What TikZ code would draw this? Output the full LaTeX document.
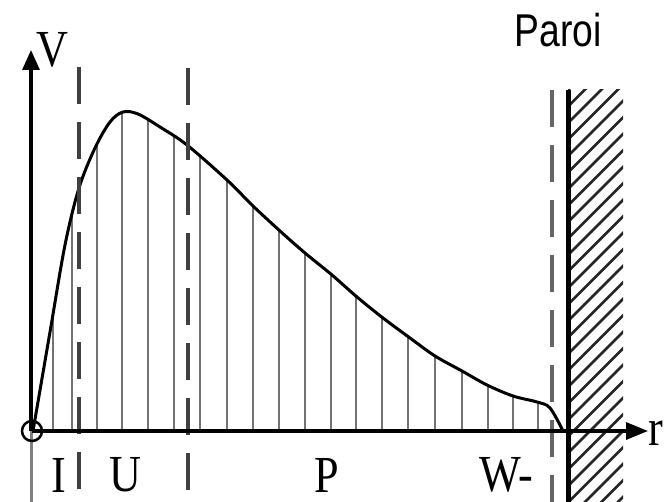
\documentclass[tikz,border=0pt]{standalone}
\usepackage{fontspec}
\setmainfont{Liberation Serif}
\newfontfamily\parsans{Liberation Sans}
\usetikzlibrary{arrows.meta}
\tikzset{
  axisline/.style={line width=3.2pt,black},
  vline/.style={line width=2.3pt,black!55},
  curveline/.style={line width=3pt,black},
  dashline/.style={line width=3.2pt,black!75,dash pattern=on 37pt off 18pt},
  hatchline/.style={line width=2.5pt,black!85},
  zonelabel/.style={font=\fontsize{52}{52}\selectfont,inner sep=0pt,xscale=0.85},
}
\begin{document}
\begin{tikzpicture}[x=1pt,y=-1pt]
\useasboundingbox (0,0) rectangle (666,502);
\fill[white] (0,0) rectangle (666,502);
% key points
\coordinate (O) at (32,431);
\coordinate (Rtip) at (648,431);
\coordinate (Vtop) at (31,50);
\coordinate (Vbot) at (31,502);
\coordinate (Vbotgrey) at (31,431);
\def\curvepts{(33,431) (50,332) (65,245) (79,188) (95,148) (110,122) (123,112) (138,114) (160,127) (187,145) (227,180) (253,206) (280,231) (305,253) (332,275) (357,297) (383,318) (410,338) (435,356) (462,371) (487,385) (513,396) (537,402) (550,408) (563,431)}
% verticals under the curve
\begin{scope}
\clip plot[smooth,tension=0.55] coordinates {\curvepts} -- cycle;
\foreach \xx in {53,72,97,122,148,174,200,227,253,279,305,331,356,382,408,435,462,488,513,538}
  \draw[vline] (\xx,433) -- (\xx,95);
\end{scope}
% curve
\draw[curveline] plot[smooth,tension=0.55] coordinates {\curvepts};
% dashed boundaries
\coordinate (D1t) at (79,67);  \coordinate (D1b) at (79,502);
\coordinate (D2t) at (188,68); \coordinate (D2b) at (188,502);
\coordinate (D3t) at (552,90); \coordinate (D3b) at (552,502);
\draw[dashline] (D1t) -- (D1b);
\draw[dashline] (D2t) -- (D2b);
\draw[dashline,black!60] (D3t) -- (D3b);
% hatch wall
\begin{scope}
\clip (568,90) rectangle (623,502);
\foreach \i in {0,...,32}
  \draw[hatchline] (566,{92+\i*16.5}) -- ++(62,-62);
\end{scope}
\coordinate (Wt) at (568,90); \coordinate (Wb) at (568,502);
\draw[line width=5pt,black] (Wt) -- (Wb);
% axes
\draw[line width=3pt,black!50] (Vbotgrey) -- (Vbot);
\draw[axisline,-{Triangle[length=20pt,width=17pt]}] (Vbotgrey) -- (Vtop);
\draw[axisline,-{Triangle[length=22pt,width=17pt]}] (O) -- (Rtip);
\draw[line width=2.5pt,black] (O) circle (10);
% labels
\node[zonelabel] (lI) at (59,475) {I};
\node[zonelabel] (lU) at (125,475) {U};
\node[zonelabel] (lP) at (327,475) {P};
\node[zonelabel] (lW) at (506,475) {W-};
\node[zonelabel,anchor=west] (lr) at (648,433) {r};
\node[zonelabel] (lV) at (52,50) {V};
\node[inner sep=0pt,font=\parsans\fontsize{46}{46}\selectfont,xscale=0.81] (paroi) at (558,30) {Paroi};
\end{tikzpicture}
\end{document}
